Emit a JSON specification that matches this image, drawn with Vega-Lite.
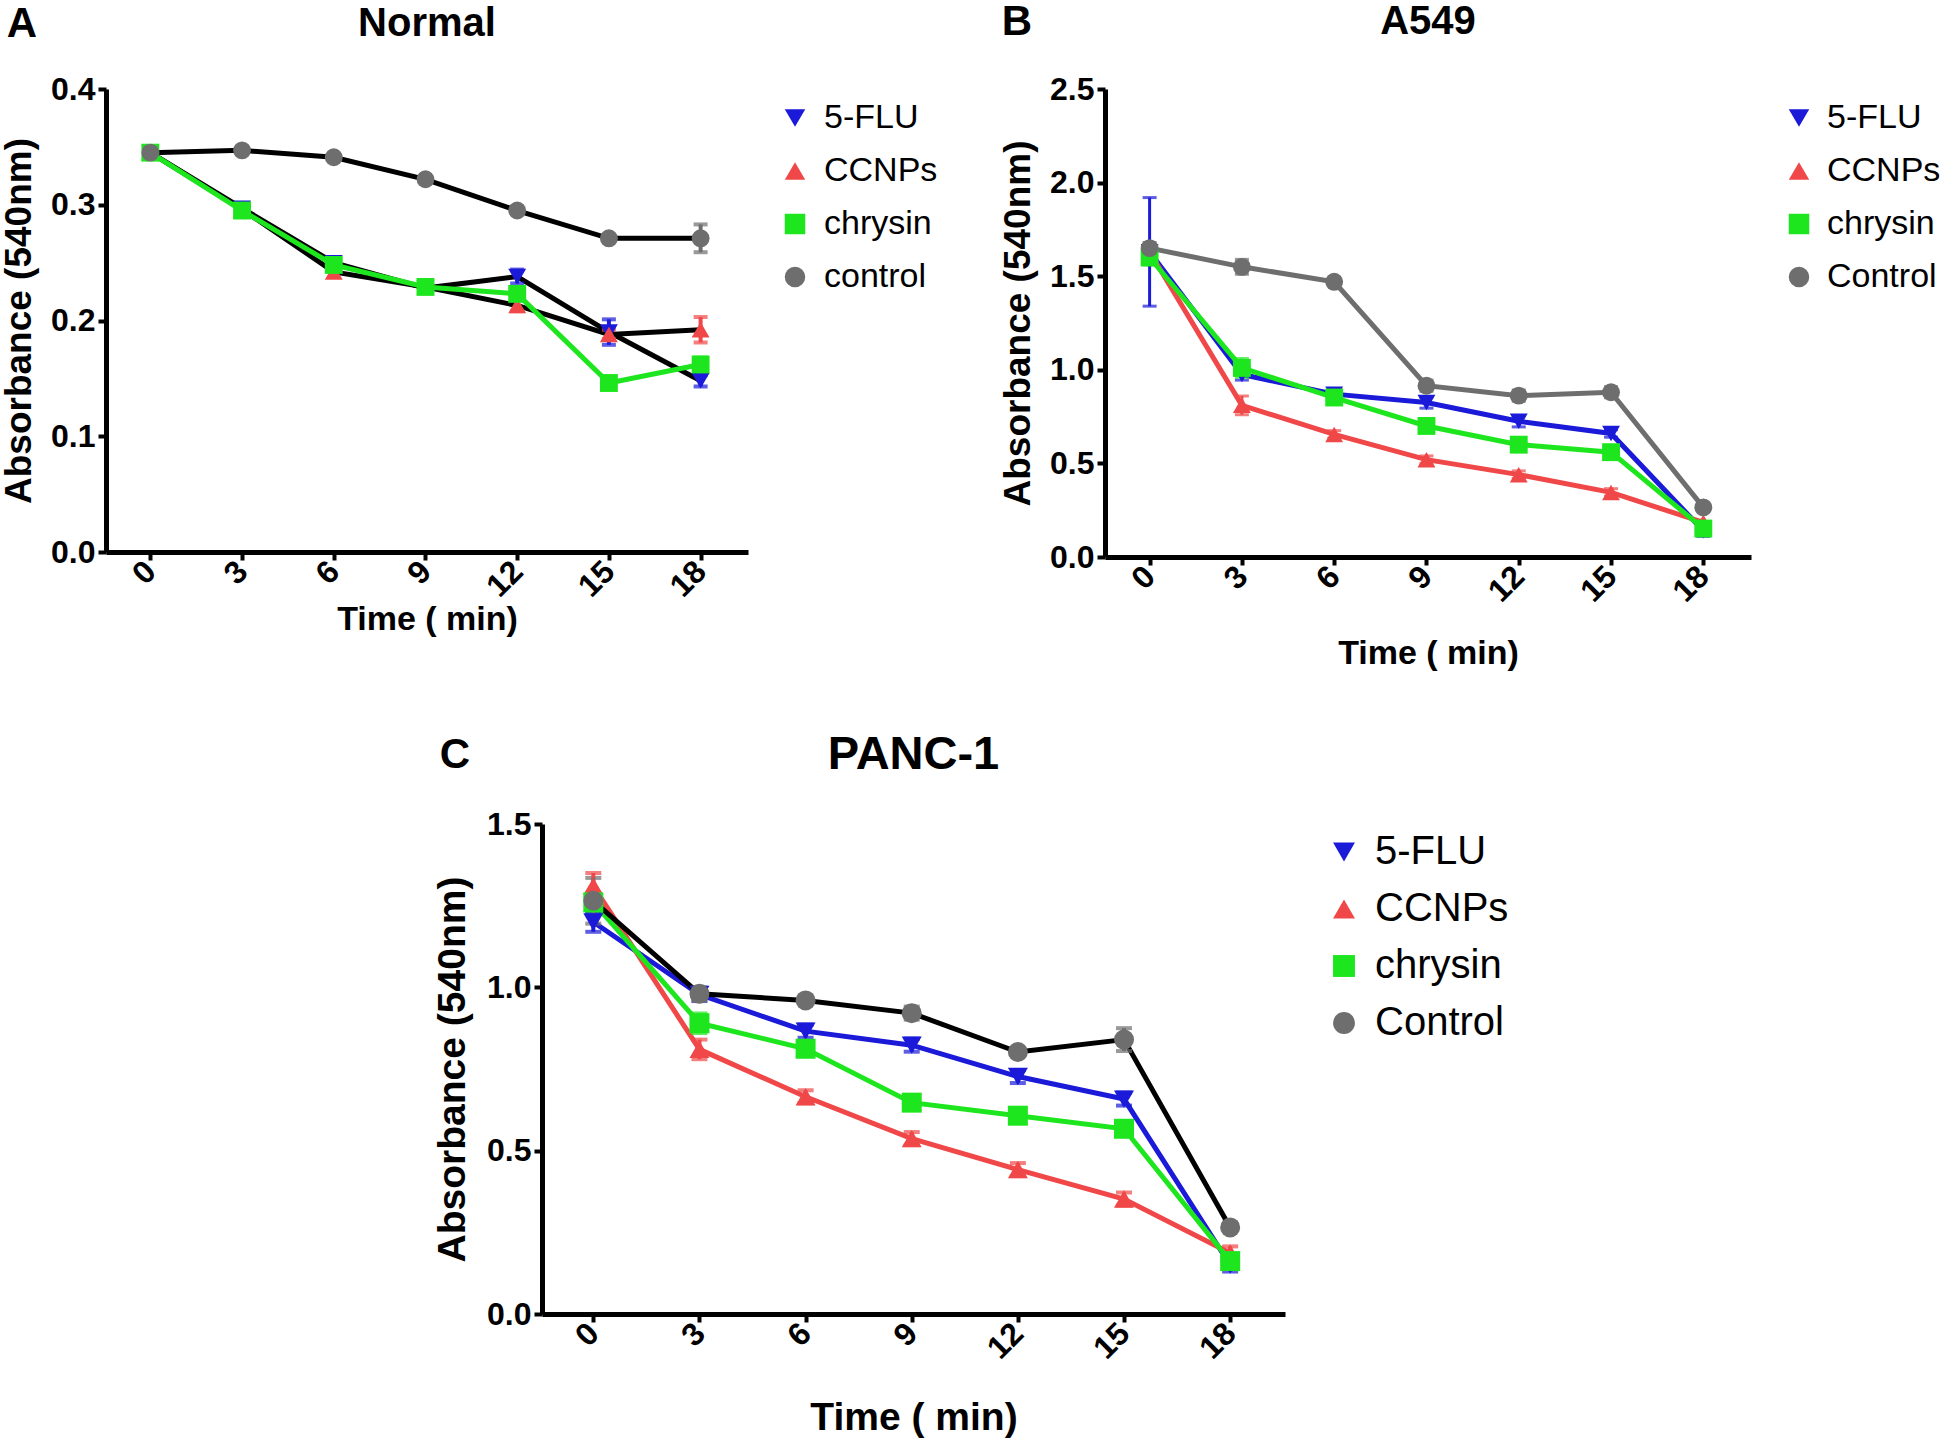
{
  "$schema": "https://vega.github.io/schema/vega-lite/v6.json",
  "background": "white",
  "padding": {"left": 0, "top": 0, "right": 0, "bottom": 0},
  "datasets": {
    "normal": [
      {"series": "5-FLU", "t": 0, "v": 0.345, "err": 0},
      {"series": "5-FLU", "t": 3, "v": 0.297, "err": 0},
      {"series": "5-FLU", "t": 6, "v": 0.250, "err": 0.004},
      {"series": "5-FLU", "t": 9, "v": 0.228, "err": 0},
      {"series": "5-FLU", "t": 12, "v": 0.238, "err": 0.006},
      {"series": "5-FLU", "t": 15, "v": 0.190, "err": 0.011},
      {"series": "5-FLU", "t": 18, "v": 0.148, "err": 0.005},
      {"series": "CCNPs", "t": 0, "v": 0.345, "err": 0},
      {"series": "CCNPs", "t": 3, "v": 0.296, "err": 0},
      {"series": "CCNPs", "t": 6, "v": 0.242, "err": 0},
      {"series": "CCNPs", "t": 9, "v": 0.229, "err": 0},
      {"series": "CCNPs", "t": 12, "v": 0.213, "err": 0.005},
      {"series": "CCNPs", "t": 15, "v": 0.188, "err": 0.004},
      {"series": "CCNPs", "t": 18, "v": 0.192, "err": 0.011},
      {"series": "chrysin", "t": 0, "v": 0.345, "err": 0},
      {"series": "chrysin", "t": 3, "v": 0.295, "err": 0.004},
      {"series": "chrysin", "t": 6, "v": 0.248, "err": 0},
      {"series": "chrysin", "t": 9, "v": 0.229, "err": 0.004},
      {"series": "chrysin", "t": 12, "v": 0.223, "err": 0.004},
      {"series": "chrysin", "t": 15, "v": 0.146, "err": 0.003},
      {"series": "chrysin", "t": 18, "v": 0.162, "err": 0.006},
      {"series": "control", "t": 0, "v": 0.345, "err": 0.005},
      {"series": "control", "t": 3, "v": 0.347, "err": 0},
      {"series": "control", "t": 6, "v": 0.341, "err": 0},
      {"series": "control", "t": 9, "v": 0.322, "err": 0},
      {"series": "control", "t": 12, "v": 0.295, "err": 0},
      {"series": "control", "t": 15, "v": 0.271, "err": 0},
      {"series": "control", "t": 18, "v": 0.271, "err": 0.012}
    ],
    "a549": [
      {"series": "5-FLU", "t": 0, "v": 1.63, "err": 0.29},
      {"series": "5-FLU", "t": 3, "v": 0.975, "err": 0.03},
      {"series": "5-FLU", "t": 6, "v": 0.87, "err": 0.02},
      {"series": "5-FLU", "t": 9, "v": 0.825, "err": 0.03},
      {"series": "5-FLU", "t": 12, "v": 0.725, "err": 0.03},
      {"series": "5-FLU", "t": 15, "v": 0.66, "err": 0.02},
      {"series": "5-FLU", "t": 18, "v": 0.14, "err": 0.03},
      {"series": "CCNPs", "t": 0, "v": 1.63, "err": 0},
      {"series": "CCNPs", "t": 3, "v": 0.81, "err": 0.05},
      {"series": "CCNPs", "t": 6, "v": 0.655, "err": 0.02},
      {"series": "CCNPs", "t": 9, "v": 0.52, "err": 0.02},
      {"series": "CCNPs", "t": 12, "v": 0.44, "err": 0.02},
      {"series": "CCNPs", "t": 15, "v": 0.345, "err": 0.02},
      {"series": "CCNPs", "t": 18, "v": 0.185, "err": 0},
      {"series": "chrysin", "t": 0, "v": 1.60, "err": 0.04},
      {"series": "chrysin", "t": 3, "v": 1.01, "err": 0.05},
      {"series": "chrysin", "t": 6, "v": 0.852, "err": 0.03},
      {"series": "chrysin", "t": 9, "v": 0.70, "err": 0.03},
      {"series": "chrysin", "t": 12, "v": 0.60, "err": 0.03},
      {"series": "chrysin", "t": 15, "v": 0.56, "err": 0.03},
      {"series": "chrysin", "t": 18, "v": 0.152, "err": 0.02},
      {"series": "Control", "t": 0, "v": 1.65, "err": 0.03},
      {"series": "Control", "t": 3, "v": 1.55, "err": 0.04},
      {"series": "Control", "t": 6, "v": 1.47, "err": 0.02},
      {"series": "Control", "t": 9, "v": 0.915, "err": 0.03},
      {"series": "Control", "t": 12, "v": 0.862, "err": 0.03},
      {"series": "Control", "t": 15, "v": 0.88, "err": 0.03},
      {"series": "Control", "t": 18, "v": 0.265, "err": 0.02}
    ],
    "panc1": [
      {"series": "5-FLU", "t": 0, "v": 1.20, "err": 0.03},
      {"series": "5-FLU", "t": 3, "v": 0.978, "err": 0.02},
      {"series": "5-FLU", "t": 6, "v": 0.866, "err": 0.02},
      {"series": "5-FLU", "t": 9, "v": 0.823, "err": 0.02},
      {"series": "5-FLU", "t": 12, "v": 0.727, "err": 0.02},
      {"series": "5-FLU", "t": 15, "v": 0.658, "err": 0.02},
      {"series": "5-FLU", "t": 18, "v": 0.15, "err": 0.02},
      {"series": "CCNPs", "t": 0, "v": 1.31, "err": 0.04},
      {"series": "CCNPs", "t": 3, "v": 0.81, "err": 0.03},
      {"series": "CCNPs", "t": 6, "v": 0.665, "err": 0.02},
      {"series": "CCNPs", "t": 9, "v": 0.537, "err": 0.02},
      {"series": "CCNPs", "t": 12, "v": 0.442, "err": 0.02},
      {"series": "CCNPs", "t": 15, "v": 0.352, "err": 0.02},
      {"series": "CCNPs", "t": 18, "v": 0.187, "err": 0.02},
      {"series": "chrysin", "t": 0, "v": 1.26, "err": 0.03},
      {"series": "chrysin", "t": 3, "v": 0.89, "err": 0.03},
      {"series": "chrysin", "t": 6, "v": 0.812, "err": 0.02},
      {"series": "chrysin", "t": 9, "v": 0.647, "err": 0.02},
      {"series": "chrysin", "t": 12, "v": 0.607, "err": 0.02},
      {"series": "chrysin", "t": 15, "v": 0.567, "err": 0.02},
      {"series": "chrysin", "t": 18, "v": 0.162, "err": 0.02},
      {"series": "Control", "t": 0, "v": 1.265, "err": 0.07},
      {"series": "Control", "t": 3, "v": 0.98, "err": 0.02},
      {"series": "Control", "t": 6, "v": 0.96, "err": 0.01},
      {"series": "Control", "t": 9, "v": 0.921, "err": 0.02},
      {"series": "Control", "t": 12, "v": 0.802, "err": 0.01},
      {"series": "Control", "t": 15, "v": 0.84, "err": 0.035},
      {"series": "Control", "t": 18, "v": 0.265, "err": 0.01}
    ]
  },
  "vconcat": [
    {
      "hconcat": [
        {
          "width": 642,
          "height": 463,
          "data": {"name": "normal"},
          "layer": [
            {
              "mark": {"type": "line", "strokeWidth": 5},
              "encoding": {
                "x": {"field": "t", "type": "quantitative", "scale": {"domain": [-1.45, 19.55], "nice": false, "zero": false},
                  "axis": {"title": "Time ( min)", "values": [0, 3, 6, 9, 12, 15, 18], "labelAngle": -45, "labelAlign": "right", "labelBaseline": "middle", "labelPadding": 6, "titlePadding": 0, "titleFontSize": 34}},
                "y": {"field": "v", "type": "quantitative", "scale": {"domain": [0, 0.4], "nice": false},
                  "axis": {"title": "Absorbance (540nm)", "values": [0, 0.1, 0.2, 0.3, 0.4], "format": ".1f", "titlePadding": 12, "titleFontSize": 37}},
                "stroke": {"field": "series", "type": "nominal", "scale": {"domain": ["control", "chrysin", "CCNPs", "5-FLU"], "range": ["#000000", "#1ee61e", "#000000", "#000000"]}, "legend": null}
              }
            },
            {
              "transform": [{"filter": "datum.err > 0"}],
              "mark": {"type": "errorbar", "ticks": {"size": 14}, "thickness": 4},
              "encoding": {
                "x": {"field": "t", "type": "quantitative"},
                "y": {"field": "v", "type": "quantitative", "title": "Absorbance (540nm)"},
                "yError": {"field": "err"},
                "color": {"field": "series", "type": "nominal", "scale": {"domain": ["5-FLU", "CCNPs", "chrysin", "control"], "range": ["#1a1ad8", "#f04848", "#1ee61e", "#6e6e6e"]}}
              }
            },
            {
              "mark": {"type": "point", "filled": true, "size": 320, "opacity": 1},
              "encoding": {
                "x": {"field": "t", "type": "quantitative"},
                "y": {"field": "v", "type": "quantitative"},
                "color": {"field": "series", "type": "nominal", "scale": {"domain": ["5-FLU", "CCNPs", "chrysin", "control"], "range": ["#1a1ad8", "#f04848", "#1ee61e", "#6e6e6e"]},
                  "legend": {"title": null, "orient": "right", "offset": 18, "padding": 12, "labelFontSize": 34, "rowPadding": 19, "symbolSize": 420, "labelOffset": 12}},
                "shape": {"field": "series", "type": "nominal", "scale": {"domain": ["5-FLU", "CCNPs", "chrysin", "control"], "range": ["triangle-down", "triangle-up", "square", "circle"]},
                  "legend": {"title": null, "orient": "right", "offset": 18, "padding": 12, "labelFontSize": 34, "rowPadding": 19, "symbolSize": 420, "labelOffset": 12}}
              }
            },
            {
              "data": {"values": [{}]},
              "mark": {"type": "text", "fontSize": 42, "fontWeight": "bold", "color": "#000000", "align": "center", "baseline": "middle"},
              "encoding": {
                "x": {"datum": -4.2, "type": "quantitative"},
                "y": {"datum": 0.456, "type": "quantitative"},
                "text": {"value": "A"}
              }
            },
            {
              "data": {"values": [{}]},
              "mark": {"type": "text", "fontSize": 40, "fontWeight": "bold", "color": "#000000", "align": "center", "baseline": "middle"},
              "encoding": {
                "x": {"datum": 9.05, "type": "quantitative"},
                "y": {"datum": 0.456, "type": "quantitative"},
                "text": {"value": "Normal"}
              }
            }
          ]
        },
        {
          "width": 646,
          "height": 468,
          "data": {"name": "a549"},
          "layer": [
            {
              "mark": {"type": "line", "strokeWidth": 5},
              "encoding": {
                "x": {"field": "t", "type": "quantitative", "scale": {"domain": [-1.45, 19.55], "nice": false, "zero": false},
                  "axis": {"title": "Time ( min)", "values": [0, 3, 6, 9, 12, 15, 18], "labelAngle": -45, "labelAlign": "right", "labelBaseline": "middle", "labelPadding": 6, "titlePadding": 29, "titleFontSize": 34}},
                "y": {"field": "v", "type": "quantitative", "scale": {"domain": [0, 2.5], "nice": false},
                  "axis": {"title": "Absorbance (540nm)", "values": [0, 0.5, 1, 1.5, 2, 2.5], "format": ".1f", "titlePadding": 12, "titleFontSize": 37}},
                "stroke": {"field": "series", "type": "nominal", "scale": {"domain": ["Control", "chrysin", "CCNPs", "5-FLU"], "range": ["#6e6e6e", "#1ee61e", "#f04848", "#1a1ad8"]}, "legend": null}
              }
            },
            {
              "transform": [{"filter": "datum.err > 0"}],
              "mark": {"type": "errorbar", "ticks": {"size": 14}, "thickness": 3},
              "encoding": {
                "x": {"field": "t", "type": "quantitative"},
                "y": {"field": "v", "type": "quantitative", "title": "Absorbance (540nm)"},
                "yError": {"field": "err"},
                "color": {"field": "series", "type": "nominal", "scale": {"domain": ["5-FLU", "CCNPs", "chrysin", "Control"], "range": ["#1a1ad8", "#f04848", "#1ee61e", "#6e6e6e"]}}
              }
            },
            {
              "mark": {"type": "point", "filled": true, "size": 320, "opacity": 1},
              "encoding": {
                "x": {"field": "t", "type": "quantitative"},
                "y": {"field": "v", "type": "quantitative"},
                "color": {"field": "series", "type": "nominal", "scale": {"domain": ["5-FLU", "CCNPs", "chrysin", "Control"], "range": ["#1a1ad8", "#f04848", "#1ee61e", "#6e6e6e"]},
                  "legend": {"title": null, "orient": "right", "offset": 19, "padding": 12, "labelFontSize": 34, "rowPadding": 19, "symbolSize": 420, "labelOffset": 11}},
                "shape": {"field": "series", "type": "nominal", "scale": {"domain": ["5-FLU", "CCNPs", "chrysin", "Control"], "range": ["triangle-down", "triangle-up", "square", "circle"]},
                  "legend": {"title": null, "orient": "right", "offset": 19, "padding": 12, "labelFontSize": 34, "rowPadding": 19, "symbolSize": 420, "labelOffset": 11}}
              }
            },
            {
              "data": {"values": [{}]},
              "mark": {"type": "text", "fontSize": 42, "fontWeight": "bold", "color": "#000000", "align": "center", "baseline": "middle"},
              "encoding": {
                "x": {"datum": -4.31, "type": "quantitative"},
                "y": {"datum": 2.858, "type": "quantitative"},
                "text": {"value": "B"}
              }
            },
            {
              "data": {"values": [{}]},
              "mark": {"type": "text", "fontSize": 40, "fontWeight": "bold", "color": "#000000", "align": "center", "baseline": "middle"},
              "encoding": {
                "x": {"datum": 9.05, "type": "quantitative"},
                "y": {"datum": 2.858, "type": "quantitative"},
                "text": {"value": "A549"}
              }
            }
          ]
        }
      ],
      "spacing": 49,
      "align": "none",
      "resolve": {"scale": {"x": "independent", "y": "independent", "color": "independent", "shape": "independent", "stroke": "independent"}}
    },
    {
      "width": 743,
      "height": 490,
      "data": {"name": "panc1"},
      "layer": [
        {
          "mark": {"type": "line", "strokeWidth": 5},
          "encoding": {
            "x": {"field": "t", "type": "quantitative", "scale": {"domain": [-1.45, 19.55], "nice": false, "zero": false},
              "axis": {"title": "Time ( min)", "values": [0, 3, 6, 9, 12, 15, 18], "labelAngle": -45, "labelAlign": "right", "labelBaseline": "middle", "labelPadding": 6, "titlePadding": 34, "titleFontSize": 39}},
            "y": {"field": "v", "type": "quantitative", "scale": {"domain": [0, 1.5], "nice": false},
              "axis": {"title": "Absorbance (540nm)", "values": [0, 0.5, 1, 1.5], "format": ".1f", "titlePadding": 14, "titleFontSize": 39}},
            "stroke": {"field": "series", "type": "nominal", "scale": {"domain": ["Control", "chrysin", "CCNPs", "5-FLU"], "range": ["#000000", "#1ee61e", "#f04848", "#1a1ad8"]}, "legend": null}
          }
        },
        {
          "transform": [{"filter": "datum.err > 0"}],
          "mark": {"type": "errorbar", "ticks": {"size": 16}, "thickness": 4},
          "encoding": {
            "x": {"field": "t", "type": "quantitative"},
            "y": {"field": "v", "type": "quantitative", "title": "Absorbance (540nm)"},
            "yError": {"field": "err"},
            "color": {"field": "series", "type": "nominal", "scale": {"domain": ["5-FLU", "CCNPs", "chrysin", "Control"], "range": ["#1a1ad8", "#f04848", "#1ee61e", "#6e6e6e"]}}
          }
        },
        {
          "mark": {"type": "point", "filled": true, "size": 400, "opacity": 1},
          "encoding": {
            "x": {"field": "t", "type": "quantitative"},
            "y": {"field": "v", "type": "quantitative"},
            "color": {"field": "series", "type": "nominal", "scale": {"domain": ["5-FLU", "CCNPs", "chrysin", "Control"], "range": ["#1a1ad8", "#f04848", "#1ee61e", "#6e6e6e"]},
              "legend": {"title": null, "orient": "right", "offset": 31, "padding": 8, "labelFontSize": 40, "rowPadding": 17, "symbolSize": 480, "labelOffset": 11}},
            "shape": {"field": "series", "type": "nominal", "scale": {"domain": ["5-FLU", "CCNPs", "chrysin", "Control"], "range": ["triangle-down", "triangle-up", "square", "circle"]},
              "legend": {"title": null, "orient": "right", "offset": 31, "padding": 8, "labelFontSize": 40, "rowPadding": 17, "symbolSize": 480, "labelOffset": 11}}
          }
        },
        {
          "data": {"values": [{}]},
          "mark": {"type": "point", "filled": true, "size": 64, "opacity": 0},
          "encoding": {
            "x": {"datum": -5.15, "type": "quantitative"},
            "y": {"datum": 0.75, "type": "quantitative"}
          }
        },
        {
          "data": {"values": [{}]},
          "mark": {"type": "text", "fontSize": 42, "fontWeight": "bold", "color": "#000000", "align": "center", "baseline": "middle"},
          "encoding": {
            "x": {"datum": -3.91, "type": "quantitative"},
            "y": {"datum": 1.711, "type": "quantitative"},
            "text": {"value": "C"}
          }
        },
        {
          "data": {"values": [{}]},
          "mark": {"type": "text", "fontSize": 47, "fontWeight": "bold", "color": "#000000", "align": "center", "baseline": "middle"},
          "encoding": {
            "x": {"datum": 9.05, "type": "quantitative"},
            "y": {"datum": 1.711, "type": "quantitative"},
            "text": {"value": "PANC-1"}
          }
        }
      ]
    }
  ],
  "spacing": 60,
  "center": true,
  "resolve": {"scale": {"x": "independent", "y": "independent", "color": "independent", "shape": "independent", "stroke": "independent"}},
  "config": {
    "view": {"stroke": null},
    "font": "Liberation Sans",
    "axis": {
      "grid": false,
      "domainColor": "#000000",
      "domainWidth": 5,
      "tickColor": "#000000",
      "tickWidth": 4,
      "tickSize": 8,
      "labelFont": "Liberation Sans",
      "labelFontWeight": "bold",
      "labelFontSize": 32,
      "labelColor": "#000000",
      "labelPadding": 3,
      "titleFont": "Liberation Sans",
      "titleFontWeight": "bold",
      "titleColor": "#000000"
    },
    "legend": {
      "labelFont": "Liberation Sans",
      "labelColor": "#000000",
      "symbolStrokeWidth": 0,
      "symbolOpacity": 1
    }
  }
}
